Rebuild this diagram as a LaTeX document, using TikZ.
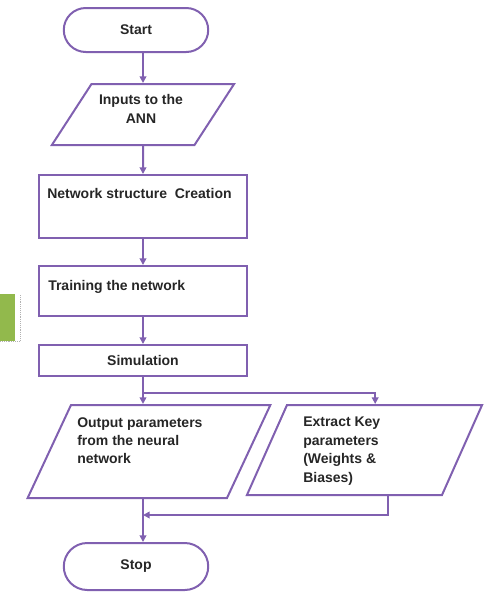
\documentclass[tikz,border=0pt]{standalone}
\usepackage{fontspec}
\setmainfont{Liberation Sans}
\usetikzlibrary{shapes.geometric,shapes.misc,arrows.meta}
\definecolor{flowpurple}{RGB}{128,96,176}
\definecolor{flowgreen}{RGB}{146,185,76}

\tikzset{
  flowline/.style={draw=flowpurple, line width=1.5pt},
  terminal/.style={flowline, rounded rectangle, minimum width=115pt, minimum height=33pt},
  procbox/.style={flowline, rectangle, minimum width=156pt},
  iobox/.style={flowline, trapezium, inner sep=0pt, text depth=0pt},
  flowtext/.style={inner sep=0pt, align=left}
}

\begin{document}
\begin{tikzpicture}[x=0.75pt, y=-0.75pt, font=\fontsize{10.5}{13.8}\selectfont\bfseries, text=black!85,
  arr/.style={flowline, -{Triangle[length=5pt,width=5pt]}}]
\useasboundingbox (0,0) rectangle (485,593);

% tab on the left
\fill[flowgreen] (0,294) rectangle (15,341);
\draw[black!30, densely dotted] (20,295) -- (20,341) -- (0,341);

\node[terminal] (start) at (136,30) {Start};
\node[iobox, trapezium left angle=57, trapezium right angle=123, text width=77.25pt, text height=45.75pt] (inp) at (143,114.5) {};
\node[flowtext, align=center] (inpt) at (141,109) {Inputs to the\\ANN};
\node[procbox, minimum height=47.25pt] (net) at (143,206.5) {};
\node[flowtext, anchor=base west] (nett) at (47,198) {Network structure\ \ Creation};
\node[procbox, minimum height=37.5pt] (train) at (143,291) {};
\node[flowtext, anchor=base west] (traint) at (48,290) {Training the network};
\node[procbox, minimum height=23.25pt] (sim) at (143,360.5) {Simulation};
\node[iobox, trapezium left angle=65, trapezium right angle=115, text width=117pt, text height=69.75pt] (outp) at (149,451.5) {};
\node[flowtext, anchor=north west] (outpt) at (77,417) {Output parameters\\from the neural\\network};
\node[iobox, trapezium left angle=66, trapezium right angle=114, text width=116.25pt, text height=67.5pt] (key) at (364.5,450) {};
\node[flowtext, anchor=north west] (keyt) at (303,417) {Extract Key\\parameters\\(Weights \&\\Biases)};
\node[terminal, minimum height=35.25pt] (stop) at (136,566.5) {Stop};

\coordinate (split) at (143,393);
\coordinate (join) at (143,515);

\draw[arr] (inp.north |- start.south) -- (inp.north);
\draw[arr] (inp.south) -- (net.north);
\draw[arr] (net.south) -- (train.north);
\draw[arr] (train.south) -- (sim.north);
\draw[flowline] (sim.south) -- (split);
\draw[arr] (split) -- (split |- outp.north);
\draw[arr] (split) -| ([xshift=8pt]key.north);
\draw[arr] ([xshift=17.5pt]key.south) |- (join);
\draw[arr] (join |- outp.south) -- (join |- stop.north);

\end{tikzpicture}
\end{document}
